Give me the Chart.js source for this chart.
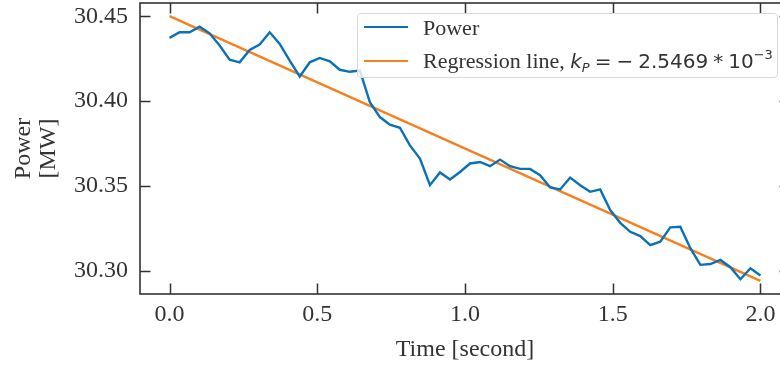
<!DOCTYPE html>
<html>
<head>
<meta charset="utf-8">
<script src="https://cdn.jsdelivr.net/npm/chart.js@4.4.1/dist/chart.umd.min.js"></script>
<style>
    html, body { margin: 0; padding: 0; background: #fff; overflow: hidden; }
    #wrap { position: relative; width: 800px; height: 368px; }
    #legend {
        position: absolute; left: 357px; top: 13px; width: 421px; height: 65px;
        box-sizing: border-box; border: 1px solid #d9d9d9; border-radius: 4px;
        background: rgba(255, 255, 255, 0.8); color: #333;
        font-family: "Liberation Serif", serif; font-size: 22px;
    }
    .row { position: absolute; left: 0; height: 30px; white-space: nowrap; }
    .swatch { position: absolute; left: 6px; width: 44px; height: 0; border-top: 2.4px solid; }
    .lbl { position: absolute; left: 65px; }
    .math { font-family: "DejaVu Sans", sans-serif; font-size: 20px; }
    .math sub, .math sup { font-size: 13px; line-height: 0; }
    .math sub { vertical-align: -4px; }
    .math sup { vertical-align: 9px; }
    .gap { display: inline-block; width: 5px; }
</style>
</head>
<body>
<div id="wrap">
    <canvas id="myChart" width="800" height="368"></canvas>
    <div id="legend">
        <div class="row" style="top: 0px;">
            <div class="swatch" style="top: 12px; border-color: #0a71b6;"></div>
            <div class="lbl" style="top: 1px;">Power</div>
        </div>
        <div class="row" style="top: 32px;">
            <div class="swatch" style="top: 14px; border-color: #f5801f;"></div>
            <div class="lbl" style="top: 2px;">Regression line, <span class="math"><i>k</i><sub><i>P</i></sub><span class="gap"></span>=<span class="gap"></span>&minus;<span class="gap"></span>2.5469<span class="gap"></span>*<span class="gap"></span>10<sup>&minus;3</sup></span></div>
        </div>
    </div>
</div>
<script>
// time axis in seconds, 60 samples
var timeData = [0, 0.0339, 0.0678, 0.1017, 0.1356, 0.1695, 0.2034, 0.2373, 0.2712, 0.3051,
    0.3390, 0.3729, 0.4068, 0.4407, 0.4746, 0.5085, 0.5424, 0.5763, 0.6102, 0.6441,
    0.6780, 0.7119, 0.7458, 0.7797, 0.8136, 0.8475, 0.8814, 0.9153, 0.9492, 0.9831,
    1.0169, 1.0508, 1.0847, 1.1186, 1.1525, 1.1864, 1.2203, 1.2542, 1.2881, 1.3220,
    1.3559, 1.3898, 1.4237, 1.4576, 1.4915, 1.5254, 1.5593, 1.5932, 1.6271, 1.6610,
    1.6949, 1.7288, 1.7627, 1.7966, 1.8305, 1.8644, 1.8983, 1.9322, 1.9661, 2.0]

// power in MW
var powerData = [30.4373, 30.4406, 30.4406, 30.4439, 30.4400, 30.4328, 30.4245, 30.4229, 30.4302, 30.4334,
    30.4406, 30.4338, 30.4239, 30.4145, 30.4229, 30.4255, 30.4235, 30.4185, 30.4173, 30.4181,
    30.3994, 30.3906, 30.3861, 30.3843, 30.3739, 30.3661, 30.3504, 30.3579, 30.3538, 30.3582,
    30.3632, 30.3641, 30.3616, 30.3655, 30.3616, 30.3600, 30.3600, 30.3563, 30.3491, 30.3479,
    30.3549, 30.3504, 30.3465, 30.3479, 30.3357, 30.3282, 30.3229, 30.3204, 30.3151, 30.3171,
    30.3255, 30.3259, 30.3132, 30.3034, 30.3039, 30.3063, 30.3020, 30.2949, 30.3014, 30.2971]

// regression line end points
var regTime = [0, 2.0]
var regPower = [30.4502, 30.2939]

var xTicks = [0, 0.5, 1.0, 1.5, 2.0]
var yTicks = [30.30, 30.35, 30.40, 30.45]

var axisColor = '#333'
var tickFont = { family: 'Liberation Serif', size: 24 }

var powerPoints = []
for (var i = 0; i < timeData.length; i++) {
    powerPoints.push({ x: timeData[i], y: powerData[i] })
}
var regPoints = []
for (var j = 0; j < regTime.length; j++) {
    regPoints.push({ x: regTime[j], y: regPower[j] })
}

// matplotlib style frame with inward ticks on all sides
var frameTicks = {
    id: 'frameTicks',
    afterDraw: function(chart) {
        var ctx = chart.ctx
        var a = chart.chartArea
        var xs = chart.scales.x
        var ys = chart.scales.y
        var len = 10.5
        ctx.save()
        ctx.strokeStyle = axisColor
        ctx.lineWidth = 1.6
        ctx.strokeRect(a.left, a.top, a.right - a.left, a.bottom - a.top)
        ctx.lineWidth = 1.5
        ctx.beginPath()
        xTicks.forEach(function(v) {
            var px = Math.round(xs.getPixelForValue(v)) + 0.5
            ctx.moveTo(px, a.bottom); ctx.lineTo(px, a.bottom - len)
            ctx.moveTo(px, a.top); ctx.lineTo(px, a.top + len)
        })
        yTicks.forEach(function(v) {
            var py = Math.round(ys.getPixelForValue(v)) + 0.5
            ctx.moveTo(a.left, py); ctx.lineTo(a.left + len, py)
            ctx.moveTo(a.right, py); ctx.lineTo(a.right - len, py)
        })
        ctx.stroke()
        ctx.restore()
    }
}

function noEdgePadding(scale) {
    scale.paddingTop = 0
    scale.paddingBottom = 0
    scale.paddingLeft = 0
    scale.paddingRight = 0
}

var ctx = document.getElementById('myChart').getContext('2d')
var myChart = new Chart(ctx, {
    type: 'line',
    data: {
        datasets: [{
            label: 'Power',
            data: powerPoints,
            borderColor: '#0a71b6',
            borderWidth: 2.4,
            pointRadius: 0,
            tension: 0,
            fill: false
        }, {
            label: 'Regression line',
            data: regPoints,
            borderColor: '#f5801f',
            borderWidth: 2.4,
            pointRadius: 0,
            tension: 0,
            fill: false
        }]
    },
    options: {
        animation: false,
        responsive: false,
        events: [],
        layout: { padding: { top: 3, right: 10, left: 0, bottom: 0 } },
        scales: {
            x: {
                type: 'linear',
                min: -0.1,
                max: 2.1,
                afterBuildTicks: function(scale) {
                    scale.ticks = xTicks.map(function(v) { return { value: v } })
                },
                afterFit: function(scale) {
                    scale.height = 74
                    noEdgePadding(scale)
                },
                grid: { display: false, drawTicks: false },
                border: { display: false },
                ticks: {
                    color: axisColor,
                    font: tickFont,
                    padding: 6,
                    maxRotation: 0,
                    callback: function(v) { return v.toFixed(1) }
                },
                title: {
                    display: true,
                    text: 'Time [second]',
                    color: axisColor,
                    font: tickFont,
                    padding: { top: 0, bottom: 4 }
                }
            },
            y: {
                min: 30.2862,
                max: 30.4579,
                afterBuildTicks: function(scale) {
                    scale.ticks = yTicks.map(function(v) { return { value: v } })
                },
                afterFit: function(scale) {
                    scale.width = 140
                    noEdgePadding(scale)
                },
                grid: { display: false, drawTicks: false },
                border: { display: false },
                ticks: {
                    color: axisColor,
                    font: tickFont,
                    padding: 12,
                    callback: function(v) { return v.toFixed(2) }
                },
                title: {
                    display: true,
                    text: ['Power', '[MW]'],
                    color: axisColor,
                    font: { family: 'Liberation Serif', size: 24, lineHeight: 1.05 },
                    padding: { top: 11, bottom: 0 }
                }
            }
        },
        plugins: {
            legend: { display: false },
            tooltip: { enabled: false }
        }
    },
    plugins: [frameTicks]
})
</script>
</body>
</html>
